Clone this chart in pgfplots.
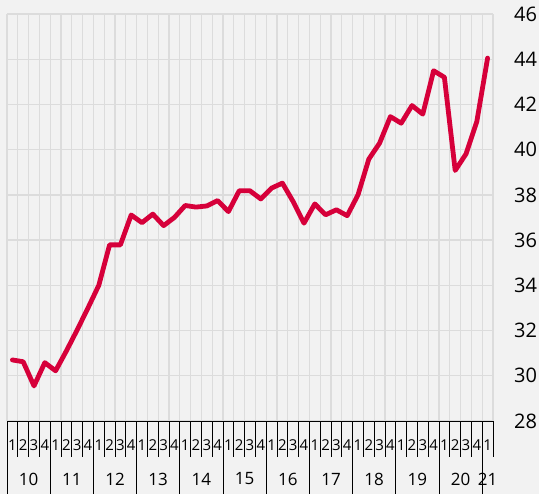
\documentclass[border=0pt]{standalone}
\usepackage{fontspec}
\setmainfont{Open Sans}
\usepackage{pgfplots}
\pgfplotsset{compat=1.18}
\definecolor{bg}{HTML}{F2F2F2}
\definecolor{gridc}{HTML}{DCDCDC}
\definecolor{linec}{HTML}{D6003A}
\tikzset{year/.style={font=\fontsize{17}{17}\selectfont, inner sep=0pt, yshift=-58pt}}
\begin{document}
\begin{tikzpicture}[x=1pt,y=1pt]
\fill[bg] (0,0) rectangle (539,494);
\begin{axis}[
  at={(7pt,73pt)}, anchor=south west,
  scale only axis, width=486pt, height=407pt,
  xmin=-0.5, xmax=44.5, ymin=28, ymax=46,
  clip=false,
  axis line style={draw=none},
  /pgf/number format/assume math mode=true,
  tick align=outside,
  xtick pos=left,
  ytick pos=right,
  tick style={black, line width=0.8pt},
  major tick length=0pt,
  minor tick length=36pt,
  xtick={0,...,44},
  xticklabels={1,2,3,4,1,2,3,4,1,2,3,4,1,2,3,4,1,2,3,4,1,2,3,4,1,2,3,4,1,2,3,4,1,2,3,4,1,2,3,4,1,2,3,4,1},
  x tick label style={font=\fontsize{15}{15}\selectfont, anchor=center, yshift=-24pt, inner sep=0pt},
  minor xtick={-0.5,0.5,...,44.5},
  xminorgrids=true,
  minor x grid style={gridc, line width=1.3pt},
  extra x ticks={-0.5,3.5,7.5,11.5,15.5,19.5,23.5,27.5,31.5,35.5,39.5,43.5},
  extra x tick labels={},
  extra x tick style={grid=none, major tick length=73pt, tick align=outside},
  ytick={28,30,...,46},
  ymajorgrids=true,
  major y grid style={gridc, line width=1.3pt},
  yticklabel pos=right,
  y tick label style={font=\fontsize{20}{20}\selectfont, anchor=west, inner sep=0pt, xshift=21pt},
]
\addplot[linec, line width=4.8pt, line join=round, line cap=round, mark=none] coordinates {
(0,30.70) (1,30.62) (2,29.55) (3,30.58) (4,30.22) (5,31.10) (6,32.03) (7,33.00)
(8,34.00) (9,35.79) (10,35.79) (11,37.11) (12,36.77) (13,37.15) (14,36.64) (15,37.00)
(16,37.53) (17,37.46) (18,37.51) (19,37.75) (20,37.26) (21,38.18) (22,38.18) (23,37.82)
(24,38.30) (25,38.52) (26,37.70) (27,36.75) (28,37.60) (29,37.12) (30,37.34) (31,37.08)
(32,38.00) (33,39.58) (34,40.29) (35,41.46) (36,41.17) (37,41.95) (38,41.57) (39,43.49)
(40,43.20) (41,39.08) (42,39.81) (43,41.24) (44,44.05)
};
\draw[black, line width=0.8pt] (rel axis cs:0,0) -- (rel axis cs:1,0);
\node[year] at (axis cs:1.5,28) {10};
\node[year] at (axis cs:5.5,28) {11};
\node[year] at (axis cs:9.5,28) {12};
\node[year] at (axis cs:13.5,28) {13};
\node[year] at (axis cs:17.5,28) {14};
\node[year] at (axis cs:21.5,28) {15};
\node[year] at (axis cs:25.5,28) {16};
\node[year] at (axis cs:29.5,28) {17};
\node[year] at (axis cs:33.5,28) {18};
\node[year] at (axis cs:37.5,28) {19};
\node[year] at (axis cs:41.5,28) {20};
\node[year] at (axis cs:44,28) {21};
\end{axis}
\pgfresetboundingbox
\path[use as bounding box] (0,0) rectangle (539,494);
\end{tikzpicture}
\end{document}
